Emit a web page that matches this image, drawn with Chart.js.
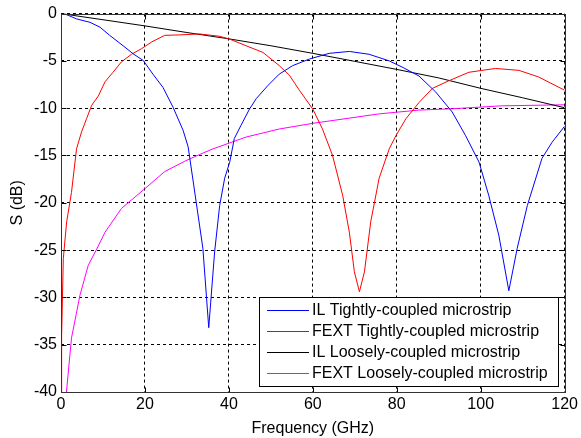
<!DOCTYPE html>
<html>
<head>
<meta charset="utf-8">
<title>S-parameters</title>
<script src="https://cdn.jsdelivr.net/npm/chart.js@4/dist/chart.umd.min.js"></script>
<style>
  html, body { margin: 0; padding: 0; background: #fff; }
  #wrap { width: 581px; height: 438px; }
</style>
</head>
<body>
<div id="wrap"><canvas id="sChart" width="581" height="438"></canvas></div>
<script>
// --- data (frequency in GHz, S in dB) ---
const xTicks = [0, 20, 40, 60, 80, 100, 120];
const yTicks = [0, -5, -10, -15, -20, -25, -30, -35, -40];

const ilTightF = [0, 1, 3.7, 6.9, 9.3, 11.6, 14.8, 17.2, 19.6, 21.9, 24.3, 26.7, 29.1, 30.3, 32.2, 33.8, 35.2, 36.6, 37.8, 39.0, 40.2, 41.3, 42.9, 44.9, 46.5, 49.3, 52.0, 55.2, 59.2, 63.9, 68.7, 73.4, 78.2, 81.5, 85.3, 89.3, 93.2, 96.4, 99.6, 101.9, 104.3, 106.7, 108.7, 111.1, 114.6, 117.0, 120];
const ilTightS = [0, -0.05, -0.56, -0.92, -1.44, -2.3, -3.4, -4.25, -4.96, -6.4, -7.8, -9.9, -12.35, -14.1, -19.9, -24.8, -33.2, -25.2, -20.3, -17.4, -15.7, -13.2, -11.8, -10.1, -9.0, -7.6, -6.4, -5.5, -4.8, -4.2, -4.0, -4.3, -5.0, -5.7, -6.6, -8.3, -10.4, -12.9, -15.7, -19.2, -23.4, -29.3, -24.8, -20.3, -15.3, -13.6, -11.9];

const fextTightF = [0, 0.15, 0.55, 1.35, 2.5, 3.7, 4.9, 6.1, 7.3, 8.9, 10.5, 12.4, 14.4, 16.8, 19.2, 21.6, 24.7, 28.3, 33.0, 37.8, 40.2, 44.1, 48.1, 52.0, 54.4, 56.8, 60.0, 62.3, 64.7, 67.1, 68.7, 69.9, 71.1, 72.3, 73.8, 75.8, 78.2, 79.8, 82.2, 85.3, 88.5, 92.4, 97.2, 103.5, 109.1, 113.8, 120];
const fextTightS = [-40, -34, -25.9, -22.0, -18.9, -14.3, -12.5, -11.1, -9.7, -8.7, -7.2, -6.2, -5.1, -4.3, -3.7, -3.0, -2.3, -2.25, -2.15, -2.4, -2.7, -3.4, -4.1, -5.5, -6.5, -8.1, -10.1, -12.2, -15.0, -19.2, -23.1, -27.3, -29.4, -27.3, -22.0, -17.4, -14.3, -12.9, -11.1, -9.4, -7.9, -7.1, -6.2, -5.8, -6.0, -6.7, -8.1];

const ilLooseF = [0, 10, 20, 30, 40, 50, 60, 70, 80, 90, 100, 110, 120];
const ilLooseS = [0, -0.65, -1.3, -2.0, -2.67, -3.4, -4.2, -5.05, -5.9, -6.8, -7.9, -8.9, -9.95];

const fextLooseF = [1.3, 2.5, 4.5, 6.5, 8.5, 10.5, 14.4, 20, 24.7, 29.5, 33, 36.2, 44.1, 52, 60, 75.8, 85.3, 93.2, 105, 120];
const fextLooseS = [-40, -34.3, -29.8, -26.6, -24.9, -23.1, -20.6, -18.5, -16.7, -15.6, -14.9, -14.3, -13.05, -12.2, -11.6, -10.6, -10.2, -10.06, -9.75, -9.64];

const seriesNames = [
  'IL Tightly-coupled microstrip',
  'FEXT Tightly-coupled microstrip',
  'IL Loosely-coupled microstrip',
  'FEXT Loosely-coupled microstrip'
];
const seriesColors = ['#0000ff', '#ff0000', '#000000', '#ff00ff'];

function pts(fs, ss) { return fs.map((f, i) => ({ x: f, y: ss[i] })); }

const FONT = 'Arial, "Liberation Sans", sans-serif';
const FSIZE = 16;

// legend box drawn inside the plot, lower right
const boxLegend = {
  id: 'boxLegend',
  afterDatasetsDraw(chart) {
    const ctx = chart.ctx, a = chart.chartArea;
    const x0 = Math.round(a.right) - 306, y0 = Math.round(a.bottom) - 95;
    const w = 299, h = 89;
    ctx.save();
    ctx.fillStyle = '#fff';
    ctx.fillRect(x0, y0, w, h);
    ctx.strokeStyle = '#000';
    ctx.lineWidth = 1;
    ctx.strokeRect(x0 + 0.5, y0 + 0.5, w, h);
    ctx.font = FSIZE + 'px ' + FONT;
    ctx.textBaseline = 'middle';
    chart.data.datasets.forEach((ds, i) => {
      const yy = y0 + 13 + i * 21;
      ctx.strokeStyle = ds.borderColor;
      ctx.beginPath();
      ctx.moveTo(x0 + 8, yy + 0.5);
      ctx.lineTo(x0 + 50, yy + 0.5);
      ctx.stroke();
      ctx.fillStyle = '#000';
      ctx.fillText(ds.label, x0 + 53, yy + 1);
    });
    ctx.restore();
  }
};

// axes box with inward ticks on all four sides
const axesBox = {
  id: 'axesBox',
  afterDraw(chart) {
    const ctx = chart.ctx, a = chart.chartArea;
    const xs = chart.scales.x, ys = chart.scales.y;
    const L = Math.round(a.left) + 0.5, R = Math.round(a.right) + 0.5;
    const T = Math.round(a.top) + 0.5, B = Math.round(a.bottom) + 0.5;
    ctx.save();
    ctx.strokeStyle = '#000';
    ctx.lineWidth = 1;
    ctx.beginPath();
    xTicks.forEach(v => {
      const px = Math.round(xs.getPixelForValue(v)) + 0.5;
      ctx.moveTo(px, B); ctx.lineTo(px, B - 5);
      ctx.moveTo(px, T); ctx.lineTo(px, T + 5);
    });
    yTicks.forEach(v => {
      const py = Math.round(ys.getPixelForValue(v)) + 0.5;
      ctx.moveTo(L, py); ctx.lineTo(L + 5, py);
      ctx.moveTo(R, py); ctx.lineTo(R - 5, py);
    });
    ctx.stroke();
    ctx.strokeStyle = '#333';
    ctx.strokeRect(L, T, R - L, B - T);
    ctx.restore();
  }
};

new Chart(document.getElementById('sChart'), {
  type: 'scatter',
  data: {
    datasets: [
      { label: seriesNames[0], data: pts(ilTightF, ilTightS), borderColor: seriesColors[0] },
      { label: seriesNames[1], data: pts(fextTightF, fextTightS), borderColor: seriesColors[1] },
      { label: seriesNames[2], data: pts(ilLooseF, ilLooseS), borderColor: seriesColors[2] },
      { label: seriesNames[3], data: pts(fextLooseF, fextLooseS), borderColor: seriesColors[3] }
    ].map(d => Object.assign(d, { showLine: true, pointRadius: 0, borderWidth: 1, tension: 0, fill: false }))
  },
  options: {
    responsive: false,
    animation: false,
    layout: { padding: { left: 0, top: 13, right: 15, bottom: 0 } },
    plugins: { legend: { display: false }, tooltip: { enabled: false } },
    scales: {
      x: {
        type: 'linear', min: 0, max: 120,
        afterBuildTicks: s => { s.ticks = xTicks.map(v => ({ value: v })); },
        afterFit: s => { s.height = 46; },
        ticks: { color: '#000', padding: 3, font: { family: FONT, size: FSIZE }, maxRotation: 0 },
        grid: { color: '#000', lineWidth: 1, drawTicks: false, tickLength: 0 },
        border: { display: false, dash: [3, 3] },
        title: { display: true, text: 'Frequency (GHz)', color: '#000', font: { family: FONT, size: FSIZE }, padding: { top: 4, bottom: 0 } }
      },
      y: {
        type: 'linear', min: -40, max: 0,
        afterBuildTicks: s => { s.ticks = yTicks.map(v => ({ value: v })); },
        afterFit: s => { s.width = 61; },
        ticks: { color: '#000', padding: 4, font: { family: FONT, size: FSIZE } },
        grid: { color: '#000', lineWidth: 1, drawTicks: false, tickLength: 0 },
        border: { display: false, dash: [3, 3] },
        title: { display: true, text: 'S (dB)', color: '#000', font: { family: FONT, size: FSIZE }, padding: { top: 8, bottom: 0 } }
      }
    }
  },
  plugins: [boxLegend, axesBox]
});
</script>
</body>
</html>
